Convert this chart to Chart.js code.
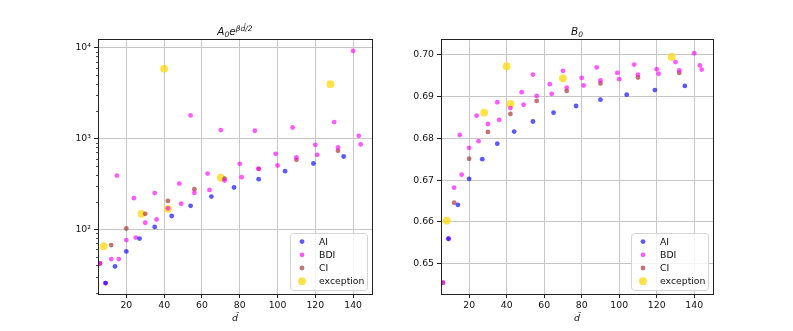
<!DOCTYPE html>
<html>
<head>
<meta charset="utf-8">
<script src="https://cdn.jsdelivr.net/npm/chart.js@4.4.0/dist/chart.umd.min.js"></script>
<style>
  body { margin: 0; background: #fff; }
  #wrap { position: relative; width: 793px; height: 331px; }
  canvas { position: absolute; top: 0; }
</style>
</head>
<body>
<div id="wrap">
  <canvas id="chartA" width="396" height="331" style="left:0"></canvas>
  <canvas id="chartB" width="397" height="331" style="left:396px"></canvas>
</div>
<script>
// values
const aiD  = [9, 14, 20, 27, 35, 44, 54, 65, 77, 90, 104, 119, 135];
const aiA  = [25.6, 39, 57, 79, 106, 140, 181, 229, 288, 356, 436, 529, 632];
const aiB  = [0.6560, 0.6641, 0.6703, 0.6750, 0.6787, 0.6816, 0.6840, 0.6861, 0.6877, 0.6892, 0.6904, 0.6915, 0.6925];

const bdiD = [6, 9, 12, 15, 16, 20, 24, 25, 30, 35, 36, 42, 48, 49, 54, 56, 63, 64, 70, 72, 80, 81, 88, 90, 99, 100, 108, 110, 120, 121, 130, 132, 140, 143, 144];
const bdiA = [42, 25.6, 47, 390, 47, 76, 220, 81, 118, 250, 128, 170, 318, 191, 1790, 251, 410, 271, 1235, 343, 525, 374, 1213, 462, 676, 503, 1318, 616, 850, 659, 1513, 794, 9170, 1068, 857];
const bdiB = [0.6455, 0.6560, 0.6682, 0.6808, 0.6713, 0.6777, 0.6854, 0.6793, 0.6834, 0.6886, 0.6844, 0.6872, 0.6910, 0.6880, 0.6952, 0.6901, 0.6929, 0.6906, 0.6961, 0.6921, 0.6944, 0.6926, 0.6969, 0.6938, 0.6956, 0.6941, 0.6976, 0.6952, 0.6965, 0.6954, 0.6982, 0.6962, 0.7003, 0.6974, 0.6964];

const ciD  = [6, 12, 20, 30, 42, 56, 72, 90, 110, 132];
const ciA  = [42, 67, 102, 148, 205, 276, 360, 462, 581, 730];
const ciB  = [0.6455, 0.6646, 0.6751, 0.6815, 0.6858, 0.6889, 0.6913, 0.6931, 0.6945, 0.6956];

const excD = [8, 28, 40, 42, 70, 128];
const excA = [65, 148, 5850, 168, 370, 3950];
const excB = [0.6603, 0.6861, 0.6972, 0.6882, 0.6943, 0.6994];

const xTicks = [20, 40, 60, 80, 100, 120, 140];
const yTicksA = [100, 1000, 10000];
const yLabelsA = ['10\u00b2', '10\u00b3', '10\u2074'];
const yTicksB = [0.65, 0.66, 0.67, 0.68, 0.69, 0.70];
const yLabelsB = ['0.65', '0.66', '0.67', '0.68', '0.69', '0.70'];

const FONT = 'DejaVu Sans';
const GRID = '#c6c6c6';

function pts(xs, ys) {
    return xs.map((x, i) => ({x: x, y: ys[i]}));
}

function makeSets(aVals, bVals, cVals, eVals) {
    return [
        {label: 'AI', data: pts(aiD, aVals), backgroundColor: 'rgba(0,0,255,0.65)', pointRadius: 2.4},
        {label: 'BDI', data: pts(bdiD, bVals), backgroundColor: 'rgba(255,0,255,0.65)', pointRadius: 2.4},
        {label: 'CI', data: pts(ciD, cVals), backgroundColor: 'rgba(165,42,42,0.65)', pointRadius: 2.4},
        {label: 'exception', data: pts(excD, eVals), backgroundColor: 'rgba(255,215,0,0.72)', pointRadius: 3.9}
    ].map(d => Object.assign(d, {pointBorderWidth: 0, pointHoverRadius: d.pointRadius}));
}

// title / axis label with sub and superscripts
function drawRich(ctx, parts, cx, baseline) {
    let total = 0;
    parts.forEach(p => {
        ctx.font = (p.it ? 'italic ' : '') + p.s + 'px "' + FONT + '"';
        p.w = ctx.measureText(p.t).width;
        total += p.w;
    });
    let x = cx - total / 2;
    ctx.fillStyle = '#111';
    ctx.textBaseline = 'alphabetic';
    ctx.textAlign = 'left';
    parts.forEach(p => {
        ctx.font = (p.it ? 'italic ' : '') + p.s + 'px "' + FONT + '"';
        ctx.fillText(p.t, x, baseline + (p.dy || 0));
        x += p.w;
    });
}

const frame = {
    id: 'frame',
    afterDraw(chart) {
        const ctx = chart.ctx, a = chart.chartArea;
        const o = chart.options.plugins.frame;
        ctx.save();
        // minor ticks on log axis
        if (o.minor) {
            const ys = chart.scales.y;
            ctx.strokeStyle = '#222';
            ctx.lineWidth = 0.8;
            o.minor.forEach(v => {
                if (v < ys.min || v > ys.max) return;
                const py = Math.round(ys.getPixelForValue(v)) + 0.5;
                ctx.beginPath();
                ctx.moveTo(a.left - 2, py);
                ctx.lineTo(a.left, py);
                ctx.stroke();
            });
        }
        // spines
        ctx.strokeStyle = '#222';
        ctx.lineWidth = 1;
        ctx.strokeRect(Math.round(a.left) + 0.5, Math.round(a.top) + 0.5,
            Math.round(a.right - a.left), Math.round(a.bottom - a.top));
        // titles
        const cx = (a.left + a.right) / 2;
        drawRich(ctx, o.title, cx, 35);
        drawRich(ctx, [{t: 'd\u0302', it: true, s: 9.3}], cx, 321);
        // legend
        const w = 77, h = 57;
        const x0 = a.right - 5 - w, y0 = a.bottom - 4 - h;
        ctx.beginPath();
        if (ctx.roundRect) ctx.roundRect(x0 + 0.5, y0 + 0.5, w, h, 3); else ctx.rect(x0 + 0.5, y0 + 0.5, w, h);
        ctx.fillStyle = 'rgba(255,255,255,0.8)';
        ctx.fill();
        ctx.strokeStyle = '#d4d4d4';
        ctx.lineWidth = 1;
        ctx.stroke();
        ctx.font = '9.3px "' + FONT + '"';
        ctx.textBaseline = 'middle';
        chart.data.datasets.forEach((ds, i) => {
            const cy = y0 + 8.6 + i * 13.2;
            ctx.beginPath();
            ctx.arc(x0 + 12, cy, ds.pointRadius, 0, Math.PI * 2);
            ctx.fillStyle = ds.backgroundColor;
            ctx.fill();
            ctx.fillStyle = '#111';
            ctx.fillText(ds.label, x0 + 29, cy + 0.5);
        });
        ctx.restore();
    }
};

function tickFont() {
    return {family: FONT, size: 9.3};
}

function makeChart(id, sets, yScale, plotOpts, pad) {
    return new Chart(document.getElementById(id), {
        type: 'scatter',
        data: {datasets: sets},
        options: {
            responsive: false,
            animation: false,
            devicePixelRatio: 1,
            layout: {padding: pad},
            events: [],
            scales: {
                x: {
                    type: 'linear',
                    min: 5,
                    max: 150,
                    afterBuildTicks: s => { s.ticks = xTicks.map(v => ({value: v})); },
                    afterFit: s => { s.height = 37; },
                    ticks: {font: tickFont(), color: '#111', padding: 2, autoSkip: false, maxRotation: 0,
                        callback: v => String(v)},
                    grid: {color: GRID, lineWidth: 1, tickColor: '#222', tickLength: 4},
                    border: {display: false}
                },
                y: yScale
            },
            plugins: {
                legend: {display: false},
                tooltip: {enabled: false},
                frame: plotOpts
            }
        },
        plugins: [frame]
    });
}

// minor ticks for log axis (axis decoration, not data)
const minorA = [];
[10, 100, 1000, 10000].forEach(dec => {
    for (let k = 2; k <= 9; k++) minorA.push(dec * k);
});

makeChart('chartA', makeSets(aiA, bdiA, ciA, excA), {
    type: 'logarithmic',
    min: 19.4,
    max: 12400,
    afterBuildTicks: s => { s.ticks = yTicksA.map(v => ({value: v, major: true})); },
    afterFit: s => { s.width = 98; },
    ticks: {font: tickFont(), color: '#111', padding: 3, autoSkip: false,
        callback: (v) => yLabelsA[yTicksA.indexOf(v)]},
    grid: {color: GRID, lineWidth: 1, tickColor: '#222', tickLength: 4},
    border: {display: false}
}, {
    minor: minorA,
    title: [
        {t: 'A', it: true, s: 10.5},
        {t: '0', it: true, s: 7.5, dy: 2},
        {t: 'e', it: true, s: 10.5},
        {t: '\u03b2', it: true, s: 7.5, dy: -4.5},
        {t: 'd\u0302', it: true, s: 7.5, dy: -4.5},
        {t: '/2', it: true, s: 7.5, dy: -4.5}
    ]
}, {left: 0, top: 39, right: 24, bottom: 0});

makeChart('chartB', makeSets(aiB, bdiB, ciB, excB), {
    type: 'linear',
    min: 0.6428,
    max: 0.7037,
    afterBuildTicks: s => { s.ticks = yTicksB.map(v => ({value: v})); },
    afterFit: s => { s.width = 45; },
    ticks: {font: tickFont(), color: '#111', padding: 3, autoSkip: false,
        callback: (v, i) => yLabelsB[i]},
    grid: {color: GRID, lineWidth: 1, tickColor: '#222', tickLength: 4},
    border: {display: false}
}, {
    title: [
        {t: 'B', it: true, s: 10.5},
        {t: '0', it: true, s: 7.5, dy: 2}
    ]
}, {left: 0, top: 39, right: 80, bottom: 0});
</script>
</body>
</html>
